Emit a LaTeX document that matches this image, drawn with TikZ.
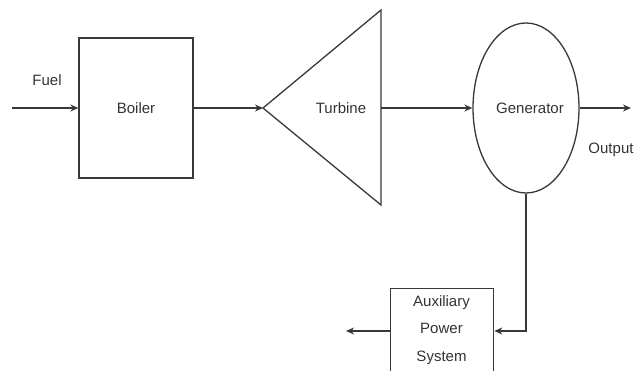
\documentclass[tikz,border=0pt]{standalone}
\usepackage{fontspec}
\setmainfont{Liberation Sans}
\usetikzlibrary{arrows.meta,shapes.geometric}
\begin{document}
\begin{tikzpicture}[x=1pt,y=-1pt,
  ln/.style={draw=black!78,line width=1.3pt},
  arr/.style={ln,-{Stealth[length=8pt,width=7pt]}},
  lbl/.style={font=\fontsize{15}{17}\selectfont,text=black!80,inner sep=0pt}]
\useasboundingbox (0,0) rectangle (638,371);
\clip (0,0) rectangle (638,371);
% Boiler
\node[ln,minimum width=114pt,minimum height=140pt,inner sep=0pt] (boiler) at (136,108) {};
\node[lbl] (boilerT) at (136,108) {Boiler};
% Turbine triangle
\coordinate (tapex) at (263,108);
\coordinate (ttop) at (381,10);
\coordinate (tbot) at (381,205);
\draw[ln,line join=miter] (tapex) -- (ttop) -- (tbot) -- cycle;
\node[lbl] (turbT) at (341,108) {Turbine};
% Generator
\node[ln,ellipse,minimum width=106pt,minimum height=170pt,inner sep=0pt] (gen) at (526,108) {};
\node[lbl] (genT) at (530,108) {Generator};
% Aux box
\node[ln,minimum width=103pt,minimum height=100pt,inner sep=0pt,anchor=north west] (aux) at (390,288) {};
\node[lbl,align=center,font=\fontsize{15}{27.5}\selectfont] (auxT) at (441.5,330) {Auxiliary\\Power\\System};
% Fuel
\coordinate (fuelS) at (12,108);
\draw[arr] (fuelS) -- (boiler.west);
\node[lbl] (fuelT) at (47,80) {Fuel};
% connections
\draw[arr] (boiler.east) -- (tapex);
\draw[arr] (381,108) -- (gen.west);
\coordinate (outE) at (631,108);
\draw[arr] (gen.east) -- (outE);
\node[lbl] (outT) at (611,150) {Output};
\coordinate (bend) at (526,331);
\draw[arr] (gen.south) -- (bend) -- (aux.east |- bend);
\coordinate (auxOut) at (346,331);
\draw[arr] (aux.west |- bend) -- (auxOut);
\end{tikzpicture}
\end{document}
